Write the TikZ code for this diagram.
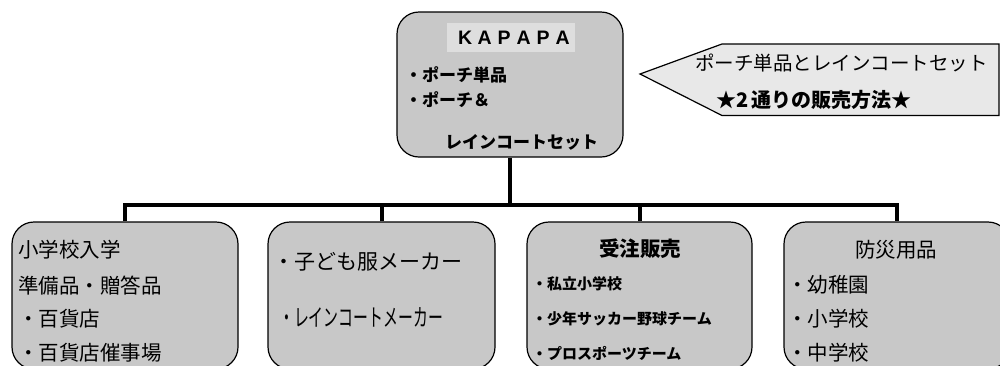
\documentclass[tikz,border=0pt]{standalone}
\usepackage{fontspec}
\usepackage{graphicx}
\newfontfamily\jp{Noto Sans CJK JP}
\newfontfamily\lat{Liberation Sans}
\definecolor{boxgray}{HTML}{C8C8C8}
\definecolor{hlgray}{HTML}{DEDEDE}
\definecolor{callgray}{HTML}{E8E8E8}
\tikzset{
  box/.style={draw=black, line width=1.2pt, fill=boxgray, rounded corners=22pt, inner sep=0pt},
  conn/.style={draw=black, line width=4pt},
  txt/.style={anchor=west, inner sep=0pt, text=black},
  ctxt/.style={anchor=center, inner sep=0pt, text=black},
  big/.style={font=\jp\fontsize{20.5}{24}\selectfont},
  bigb/.style={font=\jp\bfseries\fontsize{20.5}{24}\selectfont},
  small/.style={font=\jp\bfseries\fontsize{15}{18}\selectfont},
  topb/.style={font=\jp\bfseries\fontsize{17}{20}\selectfont},
}
\begin{document}
\begin{tikzpicture}[x=1pt,y=-1pt]
\path[use as bounding box, clip] (0,0) rectangle (1000,365);
\fill[white] (0,0) rectangle (1000,365);

% top box
\node[box, minimum width=226pt, minimum height=145pt] (top) at (510,84.5) {};
\node[fill=hlgray, minimum width=128pt, minimum height=29pt, inner sep=0pt] (hl) at (511,37.5) {};
\node[ctxt, font=\lat\bfseries\fontsize{19.5}{22}\selectfont] (kapapa) at (514,38)
  {\makebox[19.5pt]{K}\makebox[19.5pt]{A}\makebox[19.5pt]{P}\makebox[19.5pt]{A}\makebox[19.5pt]{P}\makebox[19.5pt]{A}};
\node[txt, topb] (t1) at (405,75) {・ポーチ単品};
\node[txt, topb] (t2) at (405,100) {・ポーチ＆};
\node[txt, topb] (t3) at (445,142) {レインコートセット};

% callout
\coordinate (ctip) at (640,74);
\draw[line width=1.2pt, fill=callgray] (ctip) -- (722,44) -- (999,44) -- (999,115.5) -- (722,115.5) -- cycle;
\node[txt, font=\jp\fontsize{19.5}{23}\selectfont] (c1) at (695,63) {ポーチ単品とレインコートセット};
\node[txt, font=\jp\bfseries\fontsize{20}{24}\selectfont] (c2) at (716,100) {★2\,通りの販売方法★};

% bottom boxes
\node[box, minimum width=226pt, minimum height=147pt] (b1) at (125,295.5) {};
\node[box, minimum width=227pt, minimum height=147pt] (b2) at (381.5,295.5) {};
\node[box, minimum width=225pt, minimum height=147pt] (b3) at (639.5,295.5) {};
\node[box, minimum width=226pt, minimum height=147pt] (b4) at (897,295.5) {};

% connectors
\coordinate (bus) at (0,204.5);
\draw[conn] (top.south) -- (top.south |- bus);
\draw[conn] (b1.north) -- (b1.north |- bus) -- (b4.north |- bus) -- (b4.north);
\draw[conn] (b2.north) -- (b2.north |- bus);
\draw[conn] (b3.north) -- (b3.north |- bus);

% box1 text
\node[txt, big] (a1) at (18,250) {小学校入学};
\node[txt, big] (a2) at (18,286) {準備品・贈答品};
\node[txt, big] (a3) at (18,319) {・百貨店};
\node[txt, big] (a4) at (18,353) {・百貨店催事場};

% box2 text
\node[txt, font=\jp\fontsize{21}{25}\selectfont] (m1) at (273,262) {・子ども服メーカー};
\node[txt, font=\jp\fontsize{24}{28}\selectfont] (m2) at (279,317) {\scalebox{0.62}[1]{・レインコートメーカー}};

% box3 text
\node[ctxt, bigb] (o0) at (640,249) {受注販売};
\node[txt, small] (o1) at (532,284) {・私立小学校};
\node[txt, small] (o2) at (532,319) {・少年サッカー野球チーム};
\node[txt, small] (o3) at (532,353) {・プロスポーツチーム};

% box4 text
\node[ctxt, big] (d0) at (896,250) {防災用品};
\node[txt, big] (d1) at (787,285) {・幼稚園};
\node[txt, big] (d2) at (787,319) {・小学校};
\node[txt, big] (d3) at (787,353) {・中学校};
\end{tikzpicture}
\end{document}
